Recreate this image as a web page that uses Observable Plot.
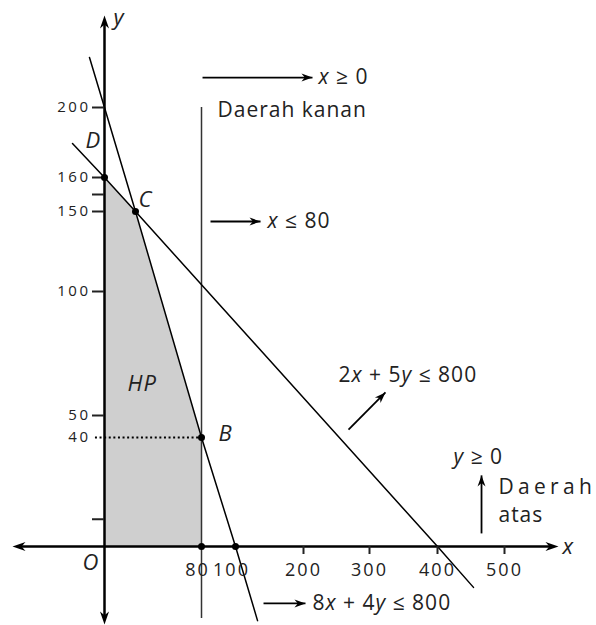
<!DOCTYPE html>
<html><head><meta charset="utf-8">
<script src="https://cdn.jsdelivr.net/npm/d3@7"></script>
<script src="https://cdn.jsdelivr.net/npm/@observablehq/plot@0.6"></script>
<style>
html,body{margin:0;padding:0;background:#fff;}
svg text{letter-spacing:1px;}
</style></head><body><div id="chart"></div>
<script>
// ---- data (values in chart units) ----
const yTickValues = [10, 50, 100, 150, 155, 160, 200];
const yTickLabels = ["", "50", "100", "150", "", "160", "200"];
const yDottedValue = [40];
const xTickValues = [200, 300, 400, 500];
const xPointTicks = [80, 100];

// constraint 8x + 4y = 800 (extended beyond the axes)
const line1X = [-12.1, 0, 25, 80, 100, 132.4];
const line1Y = [228.6, 200, 150, 40, 0, -27.2];
// constraint 2x + 5y = 800
const line2X = [-25.8, 0, 25, 400, 453.7];
const line2Y = [179.4, 160, 150, 0, -15];
// x = 80
const xLimit = [80];
const xLimitSpan = [200, -26.4];

// feasible region (HP) upper boundary
const hpX = [0, 25, 80];
const hpY = [160, 150, 40];

// corner points
const pointX = [0, 25, 80, 80, 100];
const pointY = [160, 150, 40, 0, 0];

// point labels
const pointLabel = ["D", "C", "B", "HP", "O", "y", "x"];
const pointLabelX = [-15.3, 27.5, 90, 18.5, -17.7, 7.3, 586.6];
const pointLabelY = [181.1, 153.4, 41.8, 62.9, -5.9, 250.9, 0];

// notes
const noteText = ["*x* ≥ 0", "Daerah kanan", "*x* ≤ 80", "2*x* + 5*y* ≤ 800", "*y* ≥ 0", "Daerah", "atas", "8*x* + 4*y* ≤ 800"];
const noteX = [222.7, 89.4, 147, 253, 423.9, 491, 491, 213.6];
const noteY = [217.1, 198.3, 143.75, 66.1, 32.7, 21.7, 11.4, -20.9];

// note arrows
const arrowX1 = [80.6, 85.3, 268.2, 465.7, 141.2];
const arrowY1 = [217.1, 143.75, 43.6, 4.8, -20.9];
const arrowX2 = [213.6, 136.8, 323.5, 465.7, 203];
const arrowY2 = [217.1, 143.75, 59.3, 26.1, -20.9];
const arrowDir = ["right", "right", "ne", "up", "right"];

// axes extents
const xAxisExtent = [-74.2, 580.6];
const yAxisExtent = [-28.6, 252.6];
const xAxisLine = [-67.7, 568.7];
const yAxisLine = [-25.7, 248];

// ---- helpers ----
function head(angle, len, wid) {
  const a = angle * Math.PI / 180, c = Math.cos(a), s = Math.sin(a);
  const pts = [[0, 0], [-len, -wid / 2], [-len * 0.7, 0], [-len, wid / 2]];
  return {draw(ctx) {
    pts.forEach(([x, y], i) => {
      const X = x * c - y * s, Y = x * s + y * c;
      i ? ctx.lineTo(X, Y) : ctx.moveTo(X, Y);
    });
    ctx.closePath();
  }};
}
const dirAngle = {right: 0, left: 180, up: -90, down: 90, ne: -45};

const line1 = line1X.map((x, i) => ({x, y: line1Y[i]}));
const line2 = line2X.map((x, i) => ({x, y: line2Y[i]}));
const hp = hpX.map((x, i) => ({x, y: hpY[i]}));
const pts = pointX.map((x, i) => ({x, y: pointY[i]}));
const plabels = pointLabel.map((t, i) => ({t, x: pointLabelX[i], y: pointLabelY[i]}));
const notes = noteText.map((t, i) => ({t, x: noteX[i], y: noteY[i]}));
const arrows = arrowX1.map((x1, i) => ({x1, y1: arrowY1[i], x2: arrowX2[i], y2: arrowY2[i], dir: arrowDir[i]}));
const yLabelMap = new Map(yTickValues.map((v, i) => [v, yTickLabels[i]]));

const axisHeads = [
  {x: xAxisExtent[0], y: 0, dir: "left"},
  {x: xAxisExtent[1], y: 0, dir: "right"},
  {x: 0, y: yAxisExtent[1], dir: "up"},
  {x: 0, y: yAxisExtent[0], dir: "down"}
];

const marks = [
  Plot.areaY(hp, {x: "x", y: "y", fill: "#cfcfcf"}),
  Plot.ruleY(yDottedValue, {x1: -7.3, x2: 80, stroke: "#000", strokeWidth: 2, strokeDasharray: "2,2.6"}),
  Plot.ruleX(xLimit, {y1: xLimitSpan[0], y2: xLimitSpan[1], stroke: "#333", strokeWidth: 1.5}),
  Plot.line(line1, {x: "x", y: "y", stroke: "#000", strokeWidth: 1.5}),
  Plot.line(line2, {x: "x", y: "y", stroke: "#000", strokeWidth: 1.5}),
  Plot.ruleY([0], {x1: xAxisLine[0], x2: xAxisLine[1], stroke: "#000", strokeWidth: 2.5}),
  Plot.ruleX([0], {y1: yAxisLine[0], y2: yAxisLine[1], stroke: "#000", strokeWidth: 2.5}),
  Plot.axisY({ticks: yTickValues, tickSize: 12, tickPadding: 2, tickFormat: d => yLabelMap.get(d), label: null, anchor: "left", strokeWidth: 2, color: "#222"}),
  Plot.axisY({ticks: yDottedValue, tickSize: 0, tickPadding: 14, label: null, anchor: "left", color: "#222"}),
  Plot.axisX({ticks: xTickValues, tickSize: 8, tickPadding: 9, label: null, anchor: "bottom", strokeWidth: 2, color: "#222"}),
  Plot.axisX({ticks: xPointTicks, tickSize: 0, tickPadding: 17, label: null, anchor: "bottom", dx: -4, color: "#222"}),
  Plot.dot(pts, {x: "x", y: "y", r: 3.5, fill: "#000", stroke: "none"}),
  Plot.link(arrows, {x1: "x1", y1: "y1", x2: "x2", y2: "y2", stroke: "#000", strokeWidth: 1.8})
];
for (const d of ["right", "left", "up", "down", "ne"]) {
  const a = arrows.filter(v => v.dir === d);
  if (a.length) marks.push(Plot.dot(a, {x: "x2", y: "y2", symbol: head(dirAngle[d], 11, 8), fill: "#000", stroke: "none"}));
  const h = axisHeads.filter(v => v.dir === d);
  if (h.length) marks.push(Plot.dot(h, {x: "x", y: "y", symbol: head(dirAngle[d], 13, 9), fill: "#000", stroke: "none"}));
}
marks.push(
  Plot.text(plabels, {x: "x", y: "y", text: "t", textAnchor: "start", fontSize: 22, fontStyle: "italic", fill: "#222"}),
  Plot.text(notes, {x: "x", y: "y", text: "t", textAnchor: "start", fontSize: 21, fill: "#222"})
);

const chart = Plot.plot({
  width: 596, height: 625,
  marginLeft: 104, marginBottom: 79, marginTop: 0, marginRight: 0,
  x: {type: "linear", domain: [0, 25, 80, 100, 200, 300, 400, 500], range: [104, 135, 201, 235, 303, 369, 437, 504]},
  y: {type: "linear", domain: [0, 40, 50, 100, 150, 160, 200], range: [546, 437, 415, 291, 211, 177, 107]},
  style: {fontFamily: "'Open Sans', sans-serif", background: "#fff", color: "#222", overflow: "visible"},
  marks
});

// axis tick label sizes; italic segments marked with *...*; extra spacing for "Daerah"
chart.querySelectorAll("text").forEach(t => {
  const s = t.textContent;
  let el = t, lab = "";
  while (el && el !== chart) {
    const a = el.getAttribute && el.getAttribute("aria-label");
    if (a) { lab = a; break; }
    el = el.parentNode;
  }
  if (/^\d+$/.test(s) || lab.includes("axis")) {
    if (lab.startsWith("y")) { t.style.fontSize = "15px"; t.style.letterSpacing = "2.5px"; }
    else { t.style.fontSize = "18px"; t.style.letterSpacing = "2px"; }
  }
  if (s === "Daerah") t.style.letterSpacing = "4.3px";
  if (!s.includes("*")) return;
  t.textContent = "";
  s.split("*").forEach((part, i) => {
    if (!part) return;
    const ts = document.createElementNS("http://www.w3.org/2000/svg", "tspan");
    if (i % 2) ts.setAttribute("font-style", "italic");
    ts.textContent = part;
    t.appendChild(ts);
  });
});
document.getElementById("chart").appendChild(chart);
</script></body></html>
